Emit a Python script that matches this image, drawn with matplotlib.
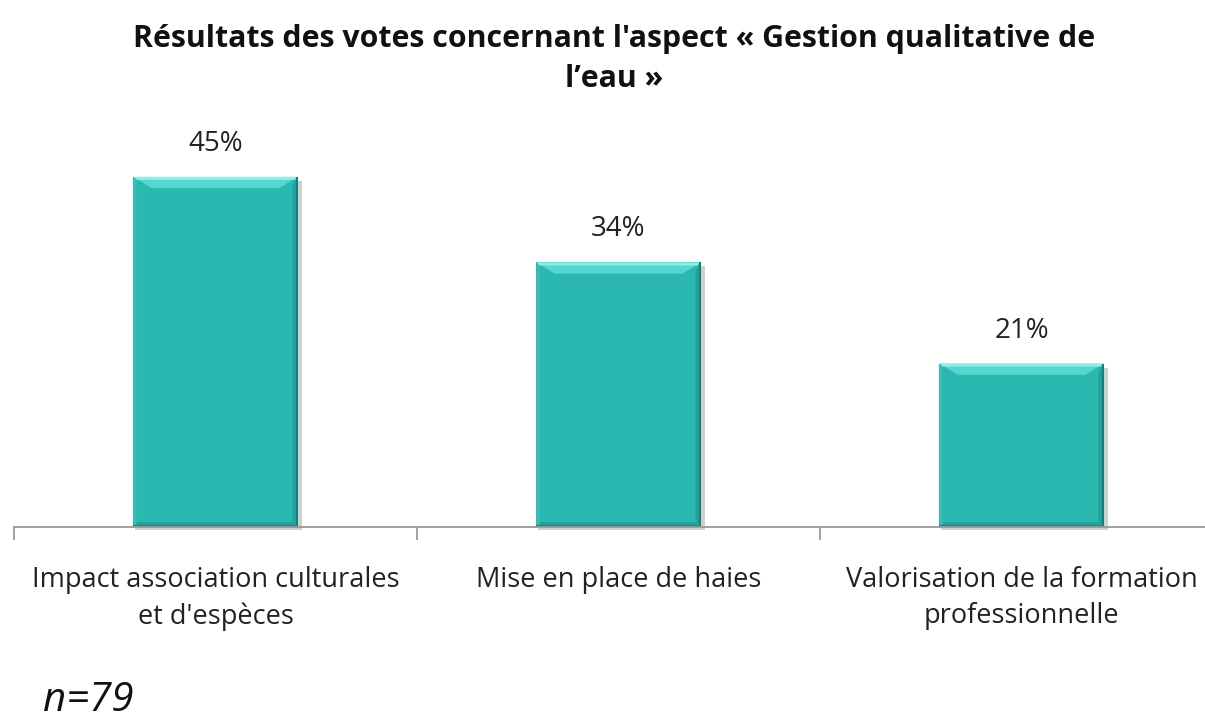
import matplotlib
matplotlib.use("Agg")
import matplotlib.pyplot as plt
from matplotlib.patches import Polygon
import matplotlib.transforms as mtransforms

categories = ["Impact association culturales\net d'espèces",
              "Mise en place de haies",
              "Valorisation de la formation\nprofessionnelle"]
values = [45, 34, 21]
value_labels = ["45%", "34%", "21%"]
title = "Résultats des votes concernant l'aspect « Gestion qualitative de\nl’eau »"
note = "n=79"

FONT = ["Open Sans", "DejaVu Sans"]
plt.rcParams['font.family'] = FONT

fig = plt.figure(figsize=(12.05, 7.21), dpi=100)
ax = fig.add_axes([14/1205, (721-527)/721, 1209/1205, (527-138)/721])
ax.set_xlim(-0.5, 2.5)
ax.set_ylim(0, 50)

main = "#2bb8b1"
bars = ax.bar(range(len(values)), values, width=0.407, color=main,
              edgecolor="none", zorder=3)

fig.canvas.draw()
ID = mtransforms.IdentityTransform()
bev = 7  # pixels
for b in bars:
    x0, y0 = b.get_x(), b.get_y()
    w, h = b.get_width(), b.get_height()
    (X0, Y0) = ax.transData.transform((x0, y0))
    (X1, Y1) = ax.transData.transform((x0 + w, y0 + h))

    def poly(pts, color, z=4, alpha=1.0):
        ax.add_patch(Polygon(pts, closed=True, facecolor=color, edgecolor="none",
                             transform=ID, zorder=z, alpha=alpha, clip_on=False))
    # shadow
    poly([(X0 + 2, Y0 - 3), (X1 + 4, Y0 - 3), (X1 + 4, Y1 - 4), (X0 + 2, Y1 - 4)], "#b0b0b0", z=2, alpha=0.6)
    # top bevel (light)
    poly([(X0, Y1), (X1, Y1), (X1 - bev*2.6, Y1 - bev*1.6), (X0 + bev*2.6, Y1 - bev*1.6)], "#55d6d0")
    poly([(X0, Y1), (X1, Y1), (X1 - 3, Y1 - 3), (X0 + 3, Y1 - 3)], "#8cefe9")
    # left edge
    poly([(X0, Y1), (X0 + 3, Y1 - 3), (X0 + 3, Y0 + 3), (X0, Y0)], "#34bfb8")
    # right (dark)
    poly([(X1, Y1), (X1, Y0), (X1 - 5, Y0 + 5), (X1 - 5, Y1 - 8)], "#23a09a")
    poly([(X1, Y1), (X1, Y0), (X1 - 2, Y0), (X1 - 2, Y1)], "#1a7d78")
    # bottom (dark)
    poly([(X0, Y0), (X1, Y0), (X1 - 5, Y0 + 5), (X0 + 5, Y0 + 5)], "#22a29c")
    poly([(X0, Y0), (X1, Y0), (X1, Y0 + 2), (X0, Y0 + 2)], "#1c857f")

for b, lab in zip(bars, value_labels):
    ax.annotate(lab, (b.get_x() + b.get_width()/2, b.get_height()),
                xytext=(0, 33), textcoords="offset pixels",
                ha="center", va="center", fontsize=20, color="#222222")

for s in ["top", "right", "left"]:
    ax.spines[s].set_visible(False)
ax.spines["bottom"].set_color("#999999")
ax.spines["bottom"].set_linewidth(1.3)
ax.spines["bottom"].set_zorder(5)
ax.set_yticks([])
ax.set_xticks([-0.5, 0.5, 1.5, 2.5])
ax.set_xticks(range(len(categories)), minor=True)
ax.set_xticklabels([])
ax.set_xticklabels(categories, minor=True, fontsize=19.5, color="#222222", linespacing=1.4)
ax.tick_params(axis="x", which="major", length=9, color="#999999", width=1.3, direction="out")
ax.tick_params(axis="x", which="minor", length=0, pad=28)

fig.text(0.51, 1 - 59/721, title, ha="center", va="center", fontsize=21.8,
         fontweight="bold", linespacing=1.45, color="#111111")
fig.text(43/1205, 1 - 711/721, note, ha="left", va="baseline", fontsize=29,
         style="italic", color="#111111")

fig.savefig("out.png", dpi=100)
